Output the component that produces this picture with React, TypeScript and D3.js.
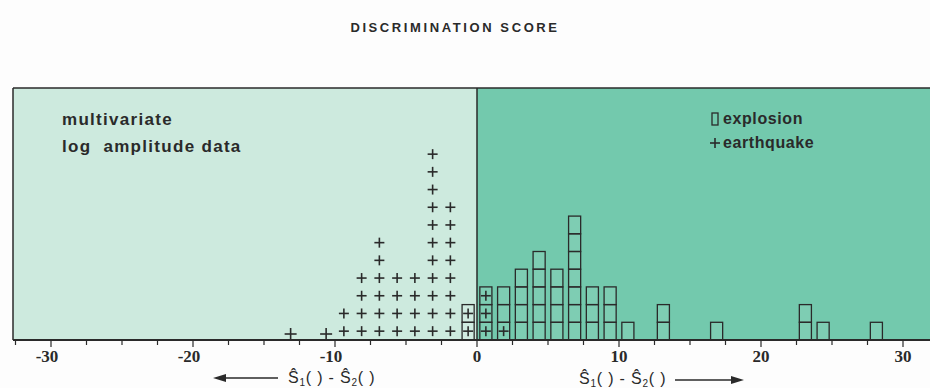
import React from 'react';
import * as d3 from 'd3';

// bin centres (score units) and counts
const quakeBins = [-13.125, -10.625, -9.375, -8.125, -6.875, -5.625, -4.375, -3.125, -1.875, -0.625, 0.625, 1.875];
const quakeCounts = [1, 1, 2, 4, 6, 4, 4, 11, 8, 2, 3, 1];
const blastBins = [-0.625, 0.625, 1.875, 3.125, 4.375, 5.625, 6.875, 8.125, 9.375, 10.625, 13.125, 16.875, 23.125, 24.375, 28.125];
const blastCounts = [2, 3, 3, 4, 5, 4, 7, 3, 3, 1, 2, 1, 2, 1, 1];
const tickLabels = [-30, -20, -10, 0, 10, 20, 30];
const binWidth = 1.25;
const title = 'DISCRIMINATION SCORE';
const noteLines = ['multivariate', 'log  amplitude data'];
const legendItems = ['explosion', 'earthquake'];

const W = 930;
const H = 388;
const PANEL_L = 13;
const PANEL_R = 930;
const PANEL_T = 88;
const BASE = 340;

const x = d3.scaleLinear().domain([-30, 30]).range([51, 903]);
const y = d3.scaleLinear().domain([0, 12]).range([BASE, BASE - 12 * 17.7]);

const INK = '#2a2a2a';
const narrow = "'Liberation Sans Narrow', 'Arial Narrow', 'Liberation Sans', sans-serif";

function Plus({ cx, cy, s = 5 }: { cx: number; cy: number; s?: number }) {
  return (
    <g stroke={INK} strokeWidth={1.6}>
      <line x1={cx - s} x2={cx + s} y1={cy} y2={cy} />
      <line x1={cx} x2={cx} y1={cy - s} y2={cy + s} />
    </g>
  );
}

function Formula({ x0, y0 }: { x0: number; y0: number }) {
  return (
    <text x={x0} y={y0} fontFamily={narrow} fontSize={16} fill={INK} letterSpacing={0.8}>
      <tspan>Ŝ</tspan>
      <tspan fontSize={10} dy={3}>1</tspan>
      <tspan dy={-3}>( ) - Ŝ</tspan>
      <tspan fontSize={10} dy={3}>2</tspan>
      <tspan dy={-3}>( )</tspan>
    </text>
  );
}

export default function App() {
  const zero = x(0);
  const ticks = d3.range(-32.5, 32.6, 2.5).filter((t) => x(t) > PANEL_L + 2 && x(t) < PANEL_R);
  const half = binWidth * 0.34;

  const boxes: JSX.Element[] = [];
  blastBins.forEach((c, i) => {
    for (let k = 0; k < blastCounts[i]; k++) {
      boxes.push(
        <rect
          key={`b${i}-${k}`}
          x={x(c - half)}
          width={x(c + half) - x(c - half)}
          y={y(k + 1)}
          height={y(k) - y(k + 1)}
          fill="rgba(255,255,255,0.08)"
          stroke={INK}
          strokeWidth={1.3}
        />
      );
    }
  });

  const pluses: JSX.Element[] = [];
  quakeBins.forEach((c, i) => {
    for (let k = 0; k < quakeCounts[i]; k++) {
      const lone = quakeCounts[i] === 1 && c < -10;
      pluses.push(<Plus key={`q${i}-${k}`} cx={x(c)} cy={lone ? BASE - 6 : y(k + 0.5)} s={lone ? 6 : 5} />);
    }
  });

  return (
    <svg width={W} height={H} style={{ position: 'absolute', left: 0, top: 0, background: '#fff' }}>
      <rect x={0} y={0} width={W} height={H} fill="#fdfdfd" />
      <text x={455} y={32} textAnchor="middle" fontFamily={narrow} fontWeight="bold" fontSize={13} letterSpacing={2.6} fill={INK}>
        {title}
      </text>

      <rect x={PANEL_L} y={PANEL_T} width={zero - PANEL_L} height={BASE - PANEL_T} fill="#cdeade" />
      <rect x={zero} y={PANEL_T} width={PANEL_R - zero} height={BASE - PANEL_T} fill="#73c9ad" />

      <line x1={PANEL_L} x2={PANEL_L} y1={PANEL_T} y2={BASE} stroke={INK} strokeWidth={1.5} />
      <line x1={PANEL_L} x2={PANEL_R} y1={PANEL_T} y2={PANEL_T} stroke={INK} strokeWidth={1.5} />
      <line x1={zero} x2={zero} y1={PANEL_T} y2={BASE} stroke={INK} strokeWidth={1.5} />

      {noteLines.map((t, i) => (
        <text key={t} x={62} y={125 + i * 27} fontFamily={narrow} fontWeight="bold" fontSize={17} letterSpacing={1.3} fill={INK} style={{ whiteSpace: 'pre' }}>
          {t}
        </text>
      ))}

      <rect x={712} y={113} width={6} height={12} fill="none" stroke={INK} strokeWidth={1.3} />
      <text x={723} y={124} fontFamily={narrow} fontWeight="bold" fontSize={16} letterSpacing={0.6} fill={INK}>{legendItems[0]}</text>
      <Plus cx={715} cy={143} s={5} />
      <text x={723} y={148} fontFamily={narrow} fontWeight="bold" fontSize={16} letterSpacing={0.6} fill={INK}>{legendItems[1]}</text>

      {boxes}
      {pluses}

      <line x1={PANEL_L} x2={PANEL_R} y1={BASE} y2={BASE} stroke={INK} strokeWidth={2} />
      {ticks.map((t) => (
        <line key={t} x1={x(t)} x2={x(t)} y1={BASE} y2={BASE + (t % 10 === 0 ? 7 : 5)} stroke={INK} strokeWidth={1.2} />
      ))}
      {tickLabels.map((t) => (
        <text key={t} x={x(t) + (t < 0 ? -4 : 0)} y={362} textAnchor="middle" fontFamily="'Liberation Serif', serif" fontWeight="bold" fontSize={17} fill={INK}>
          {t}
        </text>
      ))}

      <line x1={222} x2={278} y1={378} y2={378} stroke={INK} strokeWidth={1.5} />
      <path d="M213,378 L226,374 L226,382 Z" fill={INK} />
      <Formula x0={288} y0={383} />

      <Formula x0={579} y0={384} />
      <line x1={675} x2={734} y1={380} y2={380} stroke={INK} strokeWidth={1.5} />
      <path d="M744,380 L731,376 L731,384 Z" fill={INK} />
    </svg>
  );
}
